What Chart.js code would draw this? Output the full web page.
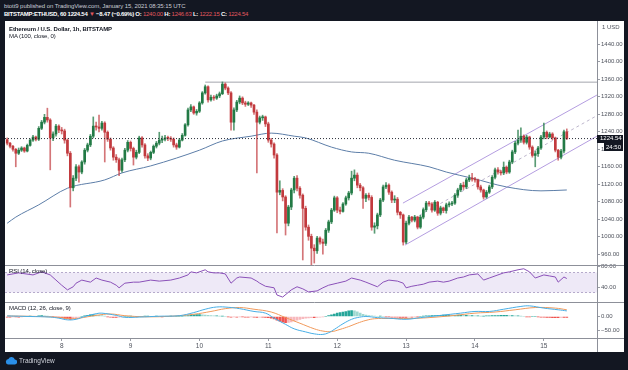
<!DOCTYPE html>
<html>
<head>
<meta charset="utf-8">
<script src="https://cdn.jsdelivr.net/npm/chart.js@4.4.1/dist/chart.umd.min.js"></script>
<style>
  html, body { margin: 0; padding: 0; }
  body {
    width: 628px; height: 370px; background: #131722; position: relative; overflow: hidden;
    font-family: "Liberation Sans", Arial, sans-serif;
  }
  #head { position: absolute; left: 4px; top: 2px; color: #c9ccd4; font-size: 6px; line-height: 8.4px; white-space: nowrap; }
  #head .l1 { letter-spacing: -0.08px; }
  #head .l2 { letter-spacing: -0.25px; }
  #head b { color: #ffffff; }
  #head .dn { color: #e0575f; }
  #pane { position: absolute; left: 5px; top: 21px; width: 619px; height: 331px; background: #ffffff; }
  #pane canvas { position: absolute; left: 0; top: 0; }
  .lbl { position: absolute; left: 4px; font-size: 6px; line-height: 7px; color: #131722; white-space: nowrap; letter-spacing: -0.1px; }
  #foot { position: absolute; left: 5px; top: 356px; height: 9px; color: #d1d4dc; font-size: 6.5px; line-height: 9px; white-space: nowrap; }
  #foot svg { vertical-align: top; margin-right: 2px; }
</style>
</head>
<body>
<div id="head">
  <div class="l1">btott9 published on TradingView.com, January 15, 2021 08:35:15 UTC</div>
  <div class="l2"><b>BITSTAMP:ETHUSD, 60 1224.54</b> <span class="dn">&#9660;</span> <b>&minus;8.47 (&minus;0.69%) O:</b> <span class="dn">1240.00</span> <b>H:</b> <span class="dn">1246.63</span> <b>L:</b> <span class="dn">1222.15</span> <b>C:</b> <span class="dn">1224.54</span></div>
</div>
<div id="pane">
  <canvas id="chart"></canvas>
  <div class="lbl" style="top:5px;font-weight:bold">Ethereum / U.S. Dollar, 1h, BITSTAMP</div>
  <div class="lbl" style="top:12px">MA (100, close, 0)</div>
  <div class="lbl" style="top:247px">RSI (14, close)</div>
  <div class="lbl" style="top:284px">MACD (12, 26, close, 9)</div>
</div>
<div id="foot"><svg width="12" height="9" viewBox="0 0 12 9"><path d="M3 8.5h6.5a2.5 2.5 0 0 0 .3-5A3.4 3.4 0 0 0 3.4 3 2.8 2.8 0 0 0 3 8.5z" fill="#2a8fe8"/></svg>TradingView</div>

<script>
// hourly candles, first one is Jan 7 05:00 (hours counted from Jan 8 00:00)
const startHour = -19;
const firstOpen = 1222;
const closes = [
  1214, 1207, 1200, 1191, 1198, 1203, 1196, 1209, 1221, 1228, 1223, 1248, 1262, 1273, 1267, 1226, 1235, 1253, 1244,
  1242, 1221, 1191, 1112, 1134, 1160, 1148, 1171, 1198, 1210, 1230, 1253, 1251, 1248, 1260, 1239, 1223, 1203, 1182, 1176, 1152, 1176, 1198, 1216,
  1202, 1182, 1193, 1226, 1210, 1185, 1180, 1193, 1207, 1214, 1221, 1223, 1226, 1225, 1223, 1210, 1205, 1221, 1232, 1256, 1290, 1297, 1283, 1287,
  1306, 1329, 1343, 1313, 1319, 1317, 1322, 1327, 1349, 1340, 1329, 1262, 1290, 1308, 1317, 1306, 1303, 1306, 1301, 1285, 1262, 1272, 1274, 1258,
  1221, 1212, 1187, 1102, 1106, 1091, 1031, 1068, 1107, 1134, 1111, 1095, 1065, 1022, 1001, 974, 968, 997, 988, 985, 1015, 1034, 1061, 1089,
  1061, 1058, 1075, 1089, 1100, 1134, 1141, 1118, 1112, 1088, 1095, 1090, 1022, 1025, 1050, 1084, 1114, 1118, 1102, 1084, 1086, 1056, 1050, 988,
  1031, 1045, 1038, 1045, 1022, 1045, 1062, 1077, 1075, 1061, 1079, 1054, 1066, 1060, 1073, 1075, 1077, 1095, 1107, 1118, 1114, 1130, 1134, 1132,
  1130, 1114, 1107, 1091, 1102, 1114, 1136, 1153, 1148, 1146, 1159, 1148, 1171, 1194, 1214, 1221, 1230, 1216, 1228, 1205, 1186, 1190, 1203, 1228,
  1239, 1228, 1235, 1226, 1198, 1182, 1196, 1240, 1224.54
];
const highs = [
  1226, 1216, 1209, 1202, 1203, 1206, 1205, 1212, 1224, 1232, 1230, 1252, 1266, 1280, 1294, 1270, 1240, 1257, 1256,
  1250, 1246, 1224, 1195, 1140, 1165, 1164, 1174, 1202, 1214, 1234, 1274, 1262, 1278, 1264, 1263, 1242, 1226, 1206, 1188, 1180, 1180, 1202, 1220,
  1219, 1205, 1198, 1230, 1229, 1213, 1190, 1196, 1210, 1218, 1239, 1230, 1232, 1230, 1229, 1226, 1214, 1225, 1236, 1259, 1294, 1302, 1299, 1291,
  1309, 1332, 1347, 1345, 1324, 1323, 1326, 1331, 1354, 1352, 1343, 1332, 1295, 1312, 1322, 1320, 1310, 1309, 1308, 1303, 1290, 1276, 1278, 1276,
  1262, 1225, 1215, 1190, 1128, 1110, 1094, 1072, 1111, 1138, 1140, 1115, 1098, 1070, 1027, 1006, 982, 1001, 1000, 995, 1019, 1038, 1065, 1093,
  1092, 1068, 1078, 1093, 1104, 1150, 1153, 1146, 1122, 1115, 1099, 1100, 1094, 1032, 1054, 1088, 1118, 1124, 1121, 1105, 1094, 1090, 1058, 1052,
  1036, 1049, 1047, 1049, 1047, 1049, 1066, 1081, 1081, 1078, 1083, 1081, 1070, 1068, 1077, 1080, 1081, 1099, 1111, 1122, 1125, 1134, 1141, 1145,
  1136, 1132, 1118, 1109, 1106, 1118, 1140, 1157, 1158, 1152, 1171, 1162, 1175, 1198, 1218, 1244, 1249, 1233, 1232, 1230, 1208, 1196, 1207, 1232,
  1260, 1242, 1239, 1238, 1228, 1200, 1200, 1244, 1246.63
];
const lows = [
  1210, 1203, 1196, 1160, 1188, 1195, 1193, 1194, 1207, 1218, 1219, 1220, 1245, 1258, 1262, 1153, 1220, 1230, 1238,
  1235, 1214, 1185, 1068, 1105, 1128, 1125, 1144, 1166, 1194, 1206, 1226, 1244, 1240, 1244, 1171, 1218, 1198, 1175, 1170, 1140, 1148, 1172, 1194,
  1196, 1164, 1178, 1190, 1205, 1180, 1174, 1176, 1190, 1203, 1210, 1215, 1219, 1220, 1218, 1205, 1200, 1203, 1219, 1230, 1253, 1286, 1280, 1278,
  1284, 1303, 1326, 1308, 1310, 1312, 1314, 1318, 1325, 1336, 1325, 1244, 1244, 1286, 1304, 1302, 1298, 1300, 1296, 1280, 1146, 1258, 1266, 1252,
  1216, 1205, 1180, 1009, 1096, 1082, 1004, 1025, 1062, 1100, 1105, 1088, 947, 1015, 992, 935, 940, 962, 983, 960, 980, 1010, 1030, 1058,
  1055, 1052, 1056, 1072, 1084, 1096, 1128, 1112, 1105, 1065, 1080, 1084, 1015, 1008, 1018, 1046, 1080, 1110, 1097, 1078, 1078, 1050, 1042, 981,
  984, 1027, 1034, 1034, 1018, 1019, 1041, 1058, 1070, 1056, 1058, 1049, 1050, 1055, 1054, 1068, 1071, 1074, 1090, 1103, 1108, 1110, 1126, 1127,
  1125, 1109, 1102, 1086, 1088, 1099, 1110, 1132, 1143, 1141, 1142, 1144, 1145, 1167, 1190, 1210, 1216, 1212, 1212, 1200, 1182, 1160, 1184, 1200,
  1224, 1224, 1226, 1222, 1194, 1175, 1178, 1192, 1222.15
];

// MA(100)
const maHours = [-19, -16, -8, 2, 15, 21, 31, 40, 48, 56, 66, 73, 81, 85, 94, 101, 107, 116, 128, 134, 143, 155, 167, 176];
const maValues = [1031, 1045, 1073, 1111, 1130, 1146, 1162, 1180, 1198, 1219, 1230, 1237, 1230, 1226, 1205, 1194, 1191, 1175, 1160, 1148, 1134, 1114, 1105, 1107];

// RSI(14)
const rsiHours = [-19,-15,-10,-7,-4,-2,0,2,4,5,7,10,12,14,17,19,20,22,25,27,31,34,38,41,44,45,47,50,51,53,55,57,59,61,62,66,68,69,71,74,75,77,80,82,84,86,89,91,93,96,99,101,104,106,110,112,114,117,119,120,122,124,126,128,131,133,135,138,140,142,145,147,149,152,154,156,159,161,163,165,168,170,172,173,174,175,176];
const rsiValues = [64,68,64,70,64,54,44,35,41,48,54,50,58,54,50,44,39,48,50,50,54,52,54,58,64,70,68,74,70,68,68,66,48,58,60,58,52,48,42,39,25,21,35,41,37,31,33,39,44,48,52,58,54,50,41,50,54,52,48,39,42,44,46,50,52,50,52,58,60,64,66,54,58,64,68,70,74,76,70,58,64,62,60,50,55,60,57];
const rsiBand = [30, 70];

// MACD(12, 26, 9)
const macdHours = [-19,-11,-4,-1,2,5,8,12,14,19,22,27,34,41,46,50,54,58,62,67,71,74,78,81,85,88,91,93,95,98,101,103,106,110,114,120,125,132,139,144,149,154,160,163,168,173,176];
const macdValues = [2,0,-2,-6,-12,-10,0,10,12,4,-3,-2,1,3,14,26,34,33,28,18,12,-6,-28,-44,-55,-62,-64,-58,-46,-26,-10,-4,0,-4,-6,-10,-4,4,12,18,18,26,36,38,30,24,20];
const signalHours = [-19,-8,-1,3,6,12,17,22,29,38,46,52,57,62,67,73,78,83,88,91,94,97,100,103,106,109,114,121,128,137,144,151,158,165,172,176];
const signalValues = [2,0,-3,-8,-6,4,9,3,-1,1,8,18,28,32,26,16,-4,-24,-44,-52,-54,-46,-36,-24,-14,-8,-7,-7,-4,4,12,16,24,32,30,24];
const histValues = [
  -2,-2,-1,-1,-2,-1, 0,0,1,0,0, 2,3,2,1, 0,-1,-2,-3,
  -5,-7,-9,-10,-8,-5, -2,0, 2,4,6,7,6,4,3, 1,-1,-2,-3,-3,-2,-1,0,
  0,1,0,-1,0,0,1,1,0,0,1,0,-1,0,0,1,0,0,1,1,2,3,
  4,6,7,7,6,5,4,3, 2,2,1,1,
  0,-1,-2,-1,-2,-1,-1,-2,-2,-1,-2,-3,-2,-2,-3,-4,
  -6,-9,-13,-17,-20,-22,-21,-19,-16,-13,-10,-8,-6,-5,
  -4,-4,-3,-2,-1,0,
  3,6,9,12,14,16,18,20,21,20,17,12,
  8,5,3,2,1,0,1,0,
  -1,-1,-2,-2,-2,-3,-3,-3,-2,-2,-1,-1,0,
  1,2,2,3,3,4,4,5,5,5,4,4,5,5,4,4,3,3,2,2,1,1,2,2,3,3,3,4,4,4,3,3,2,2,1,
  0,-1,-1,0,0,
  -1,-2,-2,-3,-3,-4,-4,-4,-3,-3,-3
];

// drawings and axis labels
const lastPrice = 1224.54;
const countdown = '24:50';
const resistance = 1353.5;
const resistanceFrom = 50;
const channelUpper = [[118.9, 1077], [186.5, 1324]];
const channelMiddle = [[119.2, 1029], [186.5, 1277]];
const channelLower = [[119.6, 981], [186.5, 1230]];
const dayLabels = [8, 9, 10, 11, 12, 13, 14, 15];
const priceTicks = [960, 1000, 1040, 1080, 1120, 1160, 1200, 1240, 1280, 1320, 1360, 1400, 1440];
const rsiTicks = [40, 80];
const macdTicks = [-50, 0];

const X_MIN = -19.76, X_MAX = 186.52;
const AXIS_W = 27;
const UP = '#227a45', DOWN = '#c23a3e';
const TICK_COLOR = '#4f535d';

const opens = closes.map((c, i) => (i === 0 ? firstOpen : closes[i - 1]));
const hourOf = i => startHour + i;
const candleColors = closes.map((c, i) => (c >= opens[i] ? UP : DOWN));
const wickColors = closes.map((c, i) => (c >= opens[i] ? 'rgba(34,122,69,0.75)' : 'rgba(194,58,62,0.7)'));
const histColors = histValues.map((v, i) => {
  const prev = i > 0 ? histValues[i - 1] : 0;
  if (v >= 0) return v >= prev ? '#26a69a' : '#9fd8d1';
  return v <= prev ? '#ef5350' : '#f7b9bd';
});
const pts = (hs, vs) => hs.map((h, i) => ({ x: h, y: vs[i] }));
const seg = p => p.map(([x, y]) => ({ x, y }));

Chart.defaults.font.family = '"Liberation Sans", Arial, sans-serif';
Chart.defaults.font.size = 6;
Chart.defaults.color = TICK_COLOR;

const rightAxis = (min, max, ticks, weight, fmt) => ({
  type: 'linear',
  position: 'right',
  stack: 'panes',
  stackWeight: weight,
  min: min,
  max: max,
  afterBuildTicks: s => { s.ticks = ticks.map(v => ({ value: v })); },
  afterFit: s => { s.width = AXIS_W; s.paddingTop = 0; s.paddingBottom = 0; },
  ticks: { autoSkip: false, padding: 1, color: TICK_COLOR, callback: fmt },
  grid: { drawOnChartArea: false, drawTicks: true, tickLength: 3, color: '#9a9da6' },
  border: { display: false }
});

const paneDecor = {
  id: 'paneDecor',
  beforeDatasetsDraw(chart) {
    const { ctx, chartArea, scales } = chart;
    const r = scales.yRsi;
    const top = Math.round(r.getPixelForValue(rsiBand[1])) + 0.5;
    const bot = Math.round(r.getPixelForValue(rsiBand[0])) + 0.5;
    ctx.save();
    ctx.fillStyle = 'rgba(126, 87, 194, 0.13)';
    ctx.fillRect(chartArea.left, top, chartArea.right - chartArea.left, bot - top);
    ctx.strokeStyle = '#b5aacb';
    ctx.lineWidth = 1;
    ctx.setLineDash([2, 2]);
    [top, bot].forEach(y => {
      ctx.beginPath(); ctx.moveTo(chartArea.left, y); ctx.lineTo(chartArea.right, y); ctx.stroke();
    });
    ctx.restore();
  },
  afterDraw(chart) {
    const { ctx, chartArea, scales, width, height } = chart;
    ctx.save();
    ctx.strokeStyle = '#8d9099';
    ctx.lineWidth = 1;
    [scales.y.bottom, scales.yRsi.bottom, scales.yMacd.bottom].forEach(y => {
      const yy = Math.round(y) + 0.5;
      ctx.beginPath(); ctx.moveTo(0, yy); ctx.lineTo(width, yy); ctx.stroke();
    });
    const ax = Math.round(chartArea.right) + 0.5;
    ctx.beginPath(); ctx.moveTo(ax, 0); ctx.lineTo(ax, height); ctx.stroke();

    // currency label
    ctx.fillStyle = TICK_COLOR;
    ctx.font = '6px "Liberation Sans", Arial, sans-serif';
    ctx.textBaseline = 'middle';
    ctx.textAlign = 'left';
    ctx.fillText('1 USD', chartArea.right + 5, 6);

    // last price + countdown tags
    const py = scales.y.getPixelForValue(lastPrice);
    ctx.fillStyle = '#131722';
    ctx.fillRect(chartArea.right, Math.round(py - 4), width - 1 - chartArea.right, 8);
    ctx.fillRect(chartArea.right + 7, Math.round(py + 4.5), width - 8 - chartArea.right, 8);
    ctx.fillStyle = '#ffffff';
    ctx.fillText(lastPrice.toFixed(2), chartArea.right + 3, py);
    ctx.fillText(countdown, chartArea.right + 9, py + 8.5);
    ctx.restore();
  }
};

new Chart(document.getElementById('chart'), {
  type: 'bar',
  data: {
    datasets: [
      {
        label: 'bodies', yAxisID: 'y', order: 1, grouped: false,
        data: closes.map((c, i) => ({ x: hourOf(i), y: [opens[i], c] })),
        backgroundColor: candleColors, barThickness: 2, minBarLength: 1, borderWidth: 0
      },
      {
        label: 'wicks', yAxisID: 'y', order: 2, grouped: false,
        data: closes.map((c, i) => ({ x: hourOf(i), y: [lows[i], highs[i]] })),
        backgroundColor: wickColors, barThickness: 1, borderWidth: 0
      },
      {
        type: 'line', label: 'MA', yAxisID: 'y', order: 3,
        data: pts(maHours, maValues), borderColor: '#5d7ea8', borderWidth: 1,
        tension: 0.4, cubicInterpolationMode: 'monotone'
      },
      {
        type: 'line', label: 'last', yAxisID: 'y', order: 0,
        data: [{ x: X_MIN, y: lastPrice }, { x: X_MAX, y: lastPrice }],
        borderColor: '#2a2e39', borderWidth: 1, borderDash: [1, 2]
      },
      {
        type: 'line', label: 'resistance', yAxisID: 'y', order: 4,
        data: [{ x: resistanceFrom, y: resistance }, { x: X_MAX, y: resistance }],
        borderColor: '#a3a6ad', borderWidth: 1
      },
      {
        type: 'line', label: 'upper', yAxisID: 'y', order: 4,
        data: seg(channelUpper), borderColor: '#b49de0', borderWidth: 1
      },
      {
        type: 'line', label: 'middle', yAxisID: 'y', order: 4,
        data: seg(channelMiddle), borderColor: '#bdb6cc', borderWidth: 1, borderDash: [3, 3]
      },
      {
        type: 'line', label: 'lower', yAxisID: 'y', order: 4,
        data: seg(channelLower), borderColor: '#b49de0', borderWidth: 1
      },
      {
        type: 'line', label: 'RSI', yAxisID: 'yRsi', order: 1,
        data: pts(rsiHours, rsiValues), borderColor: '#8a50b8', borderWidth: 1
      },
      {
        type: 'line', label: 'MACD', yAxisID: 'yMacd', order: 1,
        data: pts(macdHours, macdValues), borderColor: '#47aee6', borderWidth: 1, tension: 0.4
      },
      {
        type: 'line', label: 'Signal', yAxisID: 'yMacd', order: 2,
        data: pts(signalHours, signalValues), borderColor: '#f19a5c', borderWidth: 1, tension: 0.4
      },
      {
        label: 'Histogram', yAxisID: 'yMacd', order: 3, grouped: false,
        data: histValues.map((v, i) => ({ x: hourOf(i), y: v })),
        backgroundColor: histColors, barThickness: 2, borderWidth: 0
      }
    ]
  },
  options: {
    responsive: true,
    maintainAspectRatio: false,
    animation: false,
    events: [],
    layout: { padding: 0, autoPadding: false },
    elements: { point: { radius: 0 } },
    plugins: { legend: { display: false }, tooltip: { enabled: false } },
    scales: {
      x: {
        type: 'linear',
        min: X_MIN,
        max: X_MAX,
        offset: false,
        afterBuildTicks: s => { s.ticks = dayLabels.map(d => ({ value: (d - dayLabels[0]) * 24 })); },
        afterFit: s => { s.height = 14; s.paddingLeft = 0; s.paddingRight = 0; },
        ticks: {
          autoSkip: false, maxRotation: 0, padding: 1, color: TICK_COLOR, font: { size: 6.5 },
          callback: v => String(dayLabels[0] + v / 24)
        },
        grid: { offset: false, drawOnChartArea: false, drawTicks: true, tickLength: 3, color: '#9a9da6' },
        border: { display: false }
      },
      y: rightAxis(935.5, 1493.3, priceTicks, 244, v => v.toFixed(2)),
      yRsi: rightAxis(12.4, 83.3, rsiTicks, 36.5, v => v.toFixed(2)),
      yMacd: rightAxis(-76.8, 53.6, macdTicks, 36.5, v => (v < 0 ? '\u2212' + Math.abs(v).toFixed(2) : v.toFixed(2)))
    }
  },
  plugins: [paneDecor]
});
</script>
</body>
</html>
